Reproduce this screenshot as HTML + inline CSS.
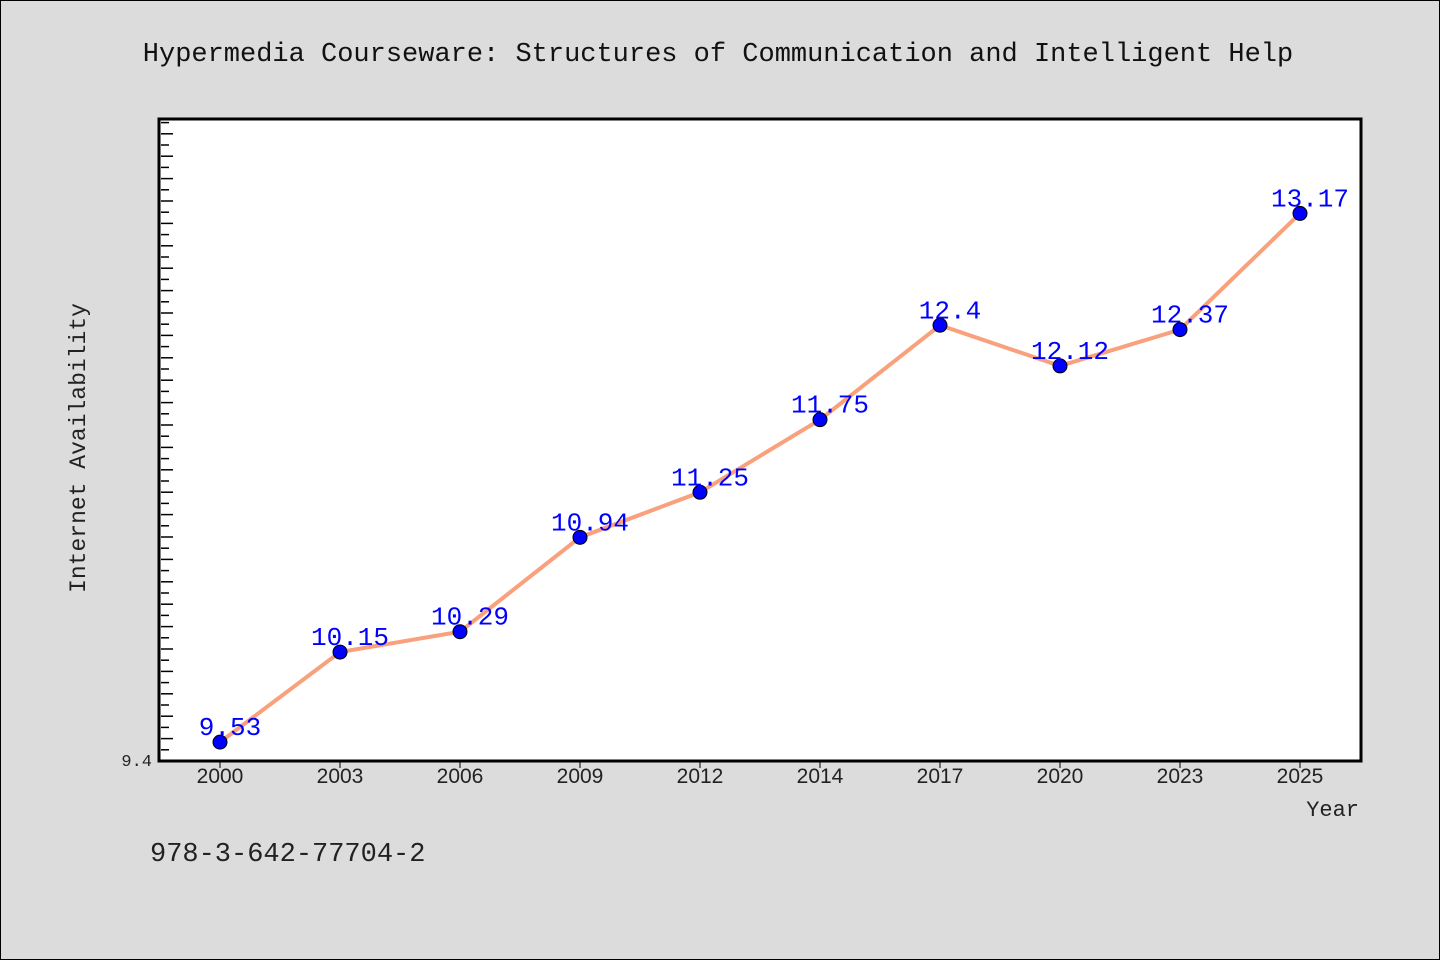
<!DOCTYPE html>
<html><head><meta charset="utf-8"><style>
body{margin:0;background:#dcdcdc;}
svg{display:block;font-family:"Liberation Mono",monospace;}
</style></head><body>
<svg width="1440" height="960">
<rect x="0.5" y="0.5" width="1439" height="959" fill="#dcdcdc" stroke="#000"/>
<text x="718" y="61" text-anchor="middle" font-size="27" fill="#111">Hypermedia Courseware: Structures of Communication and Intelligent Help</text>
<rect x="159" y="119" width="1202" height="642" fill="#fff" stroke="#000" stroke-width="3"/>
<g id="ticks"></g>
<g id="xt"></g>
<polyline id="line" fill="none" stroke="#f9a07c" stroke-width="4"/>
<g id="pts"></g>
<text x="152" y="766" text-anchor="end" font-size="17" fill="#222">9.4</text>
<text x="85" y="448" text-anchor="middle" font-size="23" fill="#222" transform="rotate(-90 85 448)">Internet Availability</text>
<text x="1359" y="816" text-anchor="end" font-size="22" fill="#222">Year</text>
<text x="150" y="861" font-size="27" fill="#222">978-3-642-77704-2</text>
</svg>
<script>
const categories=["2000","2003","2006","2009","2012","2014","2017","2020","2023","2025"];
const values=[9.53,10.15,10.29,10.94,11.25,11.75,12.4,12.12,12.37,13.17];
const yMin=9.4, yMax=13.82;
const NS="http://www.w3.org/2000/svg";
function x(i){return 220+i*120;}
function y(v){return 761-(v-yMin)/(yMax-yMin)*642;}
function mk(t,a,p){const e=document.createElementNS(NS,t);for(const k in a)e.setAttribute(k,a[k]);p.appendChild(e);return e;}
const tk=document.getElementById('ticks');
for(let k=1;k*11.2<640;k++){const yy=761-k*11.2;const l=mk('line',{x1:161,x2:k%2?169:173,y1:yy,y2:yy,stroke:'#000','stroke-width':1.5},tk);

}
const xt=document.getElementById('xt');
categories.forEach((c,i)=>{const l=mk('line',{x1:x(i),x2:x(i),y1:761,y2:768,stroke:'#000'},xt);


const t=mk('text',{x:x(i),y:783,'text-anchor':'middle','font-size':21,fill:'#222','font-family':'"Liberation Sans",sans-serif'},xt);t.textContent=c;

});
document.getElementById('line').setAttribute('points',values.map((v,i)=>x(i)+','+y(v)).join(' '));
const pts=document.getElementById('pts');
values.forEach((v,i)=>{const c=mk('circle',{cx:x(i),cy:y(v),r:7,fill:'#0000ff',stroke:'#000','stroke-width':1},pts);


const t=mk('text',{x:x(i)+10,y:y(v)-7,'text-anchor':'middle','font-size':26,fill:'#0000ff'},pts);t.textContent=String(v);

});
</script>
</body></html>
